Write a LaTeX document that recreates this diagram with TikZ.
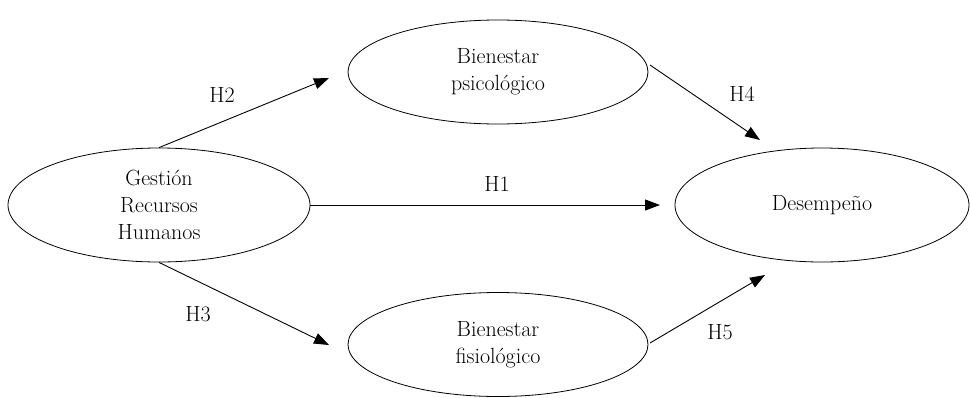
\documentclass[tikz,border=0pt]{standalone}
\usepackage{fontspec}
\usetikzlibrary{shapes.geometric,arrows.meta}
\begin{document}
\begin{tikzpicture}[x=1pt,y=-1pt,
  oval/.style={draw,ellipse,inner sep=0pt,line width=0.8pt,align=center,
    font=\fontsize{22}{27}\selectfont},
  lab/.style={font=\fontsize{22}{27}\selectfont},
  arr/.style={line width=0.9pt,-{Triangle[length=15pt,width=11pt]}}]
\useasboundingbox (0,0) rectangle (970,397);
\node[oval,minimum width=302pt,minimum height=114pt] (g) at (159,205) {Gestión\\Recursos\\Humanos};
\node[oval,minimum width=300pt,minimum height=104pt] (p) at (498,72) {Bienestar\\psicológico};
\node[oval,minimum width=300pt,minimum height=104pt] (f) at (498,344.5) {Bienestar\\fisiológico};
\node[oval,minimum width=294pt,minimum height=114pt] (d) at (822,205) {Desempeño};
\coordinate (t2) at (329,78);
\coordinate (t1) at (660,205);
\coordinate (t3) at (329,345);
\coordinate (t4) at (760,140);
\coordinate (t5) at (765,275);
\coordinate (s4) at (650,65);
\coordinate (s5) at (650,343);
\draw[arr] (g.north) -- (t2);
\draw[arr] (g.east) -- (t1);
\draw[arr] (g.south) -- (t3);
\draw[arr] (s4) -- (t4);
\draw[arr] (s5) -- (t5);
\node[lab] (h2) at (222,95) {H2};
\node[lab] (h1) at (497,184) {H1};
\node[lab] (h3) at (198,314) {H3};
\node[lab] (h4) at (742,94) {H4};
\node[lab] (h5) at (720,332) {H5};
\end{tikzpicture}
\end{document}
